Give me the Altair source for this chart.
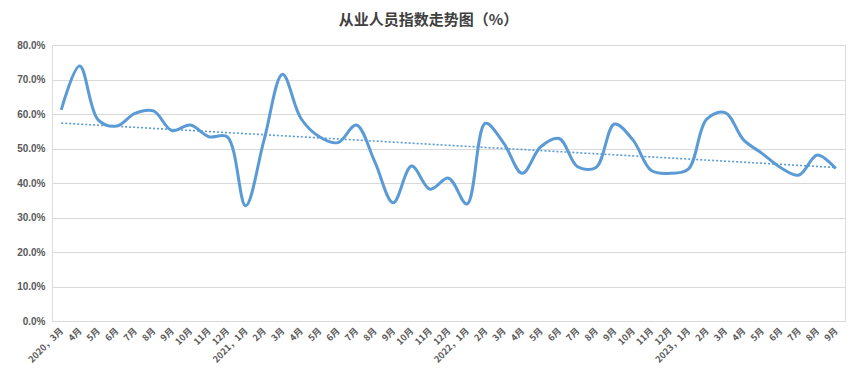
import altair as alt
import pandas as pd

labels = ["2020，3月", "4月", "5月", "6月", "7月", "8月", "9月", "10月", "11月", "12月",
          "2021，1月", "2月", "3月", "4月", "5月", "6月", "7月", "8月", "9月", "10月", "11月", "12月",
          "2022，1月", "2月", "3月", "4月", "5月", "6月", "7月", "8月", "9月", "10月", "11月", "12月",
          "2023，1月", "2月", "3月", "4月", "5月", "6月", "7月", "8月", "9月"]
values = [61.2, 73.9, 58.3, 56.5, 60.2, 60.9, 55.2, 56.8, 53.4, 53.4,
          33.4, 52.5, 71.5, 58.7, 53.4, 51.7, 56.8, 46.2, 34.3, 44.9, 38.2, 41.4,
          33.9, 57.3, 51.5, 42.8, 50.5, 52.9, 44.7, 44.5, 57.1, 52.5, 43.6, 42.8,
          44.0, 58.5, 60.4, 52.5, 48.6, 44.5, 42.3, 48.1, 44.2]

df = pd.DataFrame({"i": list(range(len(values))), "v": [x / 100 for x in values]})

arr = "[" + ",".join("'" + s + "'" for s in labels) + "]"
n = len(values)

x = alt.X("i:Q", scale=alt.Scale(domain=[-0.5, n - 0.5], nice=False, zero=False),
          axis=alt.Axis(values=list(range(n)), labelExpr=arr + "[datum.value]", title=None,
                        grid=False, domain=False, ticks=False, labelAngle=-45, labelAlign="right",
                        labelBaseline="middle", labelPadding=8, labelFontSize=9, labelFontWeight="bold",
                        labelColor="#595959", labelFont="Noto Sans CJK SC", labelOverlap=False))
y = alt.Y("v:Q", scale=alt.Scale(domain=[0, 0.8], nice=False),
          axis=alt.Axis(values=[0, 0.1, 0.2, 0.3, 0.4, 0.5, 0.6, 0.7, 0.8], format=".1%", title=None,
                        domain=False, ticks=False, gridColor="#d9d9d9", gridWidth=1, labelPadding=7,
                        labelFontSize=10, labelFontWeight="bold", labelColor="#595959",
                        labelFont="Liberation Sans"))

line = alt.Chart(df).mark_line(interpolate="catmull-rom", color="#5b9bd5", strokeWidth=3).encode(x=x, y=y)
trend = alt.Chart(df).transform_regression("i", "v", method="linear", extent=[0, n - 1]).mark_line(
    color="#5b9bd5", strokeWidth=1.6, strokeDash=[2, 2]).encode(x=x, y=y)

chart = alt.layer(trend, line).properties(
    width=793, height=276,
    padding={"left": 44, "top": 37, "right": 5, "bottom": 50},
    autosize=alt.AutoSizeParams(type="none"),
    title=alt.TitleParams("从业人员指数走势图（%）", font="Noto Sans CJK SC", fontSize=15,
                          fontWeight="bold", color="#404040", anchor="middle", dx=-20,
                          baseline="bottom", offset=12, dy=15),
).configure_view(stroke=None).configure(background="white")

chart.save("out.html", embed_options={"renderer": "svg", "actions": False})
